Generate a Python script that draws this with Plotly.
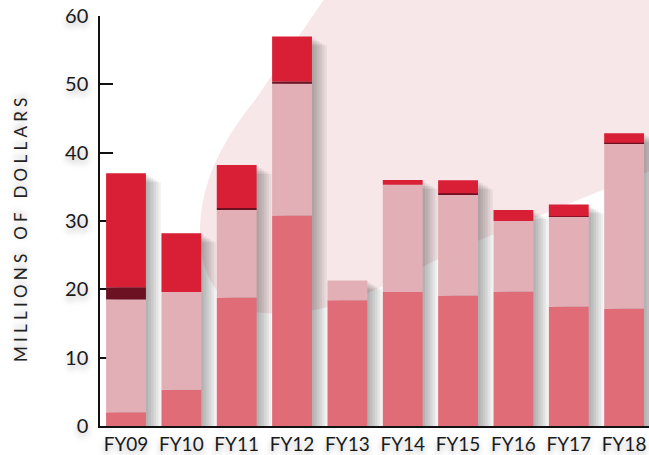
import plotly.graph_objects as go

# Fiscal years and stacked funding components (millions of dollars)
years = ["FY09", "FY10", "FY11", "FY12", "FY13", "FY14", "FY15", "FY16", "FY17", "FY18"]
base_funds = [2.0, 5.3, 18.8, 30.8, 18.4, 19.6, 19.1, 19.7, 17.5, 17.2]
core_funds = [16.5, 14.3, 12.8, 19.3, 2.9, 15.7, 14.8, 10.3, 13.1, 24.1]
bridge_funds = [1.8, 0.0, 0.3, 0.3, 0.0, 0.0, 0.15, 0.0, 0.1, 0.15]
other_funds = [16.7, 8.6, 6.3, 6.6, 0.0, 0.7, 1.9, 1.6, 1.7, 1.4]

y_ticks = [0, 10, 20, 30, 40, 50, 60]
y_title_words = ["MILLIONS", "OF", "DOLLARS"]

series = [
    (base_funds, "#E06C78"),
    (core_funds, "#E2AFB6"),
    (bridge_funds, "#6B1122"),
    (other_funds, "#D91F36"),
]

W, H = 649, 455
L, R, T, B = 100, 0, 16, 29
PW, PH = W - L - R, H - T - B

BAR_W = 0.72

fig = go.Figure()

# soft drop shadow to the right of each stacked column
totals = [sum(v) for v in zip(base_funds, core_funds, bridge_funds, other_funds)]
for k in range(1, 7):
    fig.add_trace(go.Bar(
        x=years,
        y=[max(t - 0.22 * k, 0) for t in totals],
        width=BAR_W,
        offset=-BAR_W / 2 + 0.045 * k,
        marker=dict(color="rgba(0,0,0,0.055)", line=dict(width=0)),
        hoverinfo="skip",
        showlegend=False,
    ))

# stacked columns with explicit bases
running = [0.0] * len(years)
for values, color in series:
    fig.add_trace(go.Bar(
        x=years,
        y=values,
        base=list(running),
        width=BAR_W,
        marker=dict(color=color, line=dict(width=0)),
        showlegend=False,
    ))
    running = [a + b for a, b in zip(running, values)]


def px(x, y):
    """Pixel position on the canvas -> paper coordinates."""
    return (x - L) / PW, (H - B - y) / PH


def path(cmds):
    out = []
    for c in cmds:
        if isinstance(c, str):
            out.append(c)
        else:
            xp, yp = px(*c)
            out.append(f"{xp:.4f},{yp:.4f}")
    return " ".join(out)


blob = path([
    "M", (327, -5), "L", (655, -5), "L", (655, 169), "L", (605, 189), "L", (480, 240),
    "C", (420, 266), (380, 290), (345, 302),
    "C", (310, 314), (270, 316), (245, 310),
    "C", (215, 300), (200, 270), (200, 235),
    "C", (200, 190), (215, 150), (255, 100),
    "Z",
])

# widely tracked axis title
letter_gap = "\u2005"
word_gap = "\u2003\u200a"
y_title = word_gap.join(letter_gap.join(w) for w in y_title_words)

tick_shadow = "0px 4px 6px rgba(0,0,0,0.28)"

fig.update_layout(
    width=W, height=H,
    margin=dict(l=L, r=R, t=T, b=B),
    paper_bgcolor="white",
    plot_bgcolor="rgba(0,0,0,0)",
    barmode="overlay",
    font=dict(family="Lato", color="#1a1a1a"),
    shapes=[dict(type="path", xref="paper", yref="paper", path=blob,
                 fillcolor="#F8E7E9", line=dict(width=0), layer="below")],
    xaxis=dict(
        type="category",
        range=[-0.47, 9.45],
        showline=True, linecolor="#111", linewidth=1.5,
        ticks="", showgrid=False, zeroline=False,
        tickfont=dict(size=19, color="#1a1a1a", shadow=tick_shadow),
        layer="above traces",
    ),
    yaxis=dict(
        range=[0, 60],
        tickvals=y_ticks,
        showline=True, linecolor="#111", linewidth=1.5,
        ticks="inside", ticklen=13, tickwidth=1.5, tickcolor="#111",
        showgrid=False, zeroline=False,
        ticklabelstandoff=6,
        tickfont=dict(size=20, color="#1a1a1a", shadow=tick_shadow),
        layer="below traces",
    ),
    annotations=[dict(
        text=y_title,
        xref="paper", yref="paper",
        x=px(20, 230)[0], y=px(20, 230)[1],
        xanchor="center", yanchor="middle",
        textangle=-90, showarrow=False,
        font=dict(size=17, color="#222", shadow="3px 0px 6px rgba(0,0,0,0.25)"),
    )],
)

fig.write_html("out.html")
